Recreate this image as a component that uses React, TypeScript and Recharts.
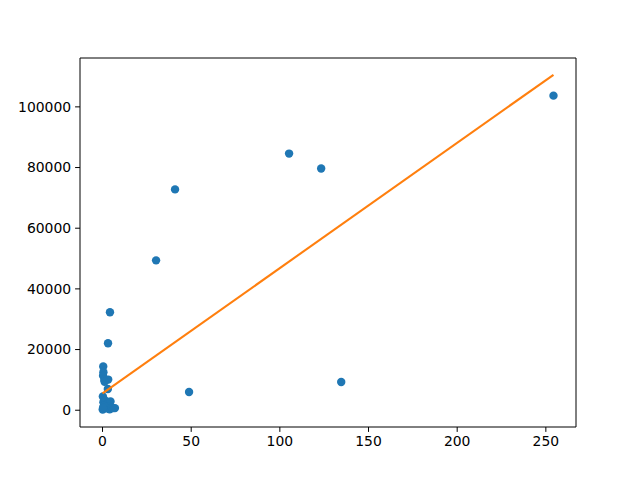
import React from 'react';
import {
  ScatterChart,
  Scatter,
  XAxis,
  YAxis,
  ReferenceLine,
} from 'recharts';

// scatter points (x, y)
const pointX = [
  254.3, 105.2, 123.3, 40.9, 30.2, 4.2, 3.1, 48.8, 134.6,
  0.4, 0.5, 0.3, 1.0, 3.2, 3.0, 1.2, 0.2, 0.5, 1.5, 2.5,
  4.5, 0.1, 2.0, 3.0, 4.0, 5.0, 6.0, 0.8, 0.3, 7.0,
];
const pointY = [
  103700, 84600, 79700, 72800, 49400, 32300, 22100, 6000, 9300,
  14400, 12500, 11400, 10000, 10100, 7000, 9400, 4500, 2600, 3200, 2000,
  2900, 200, 600, 1200, 300, 900, 700, 1500, 800, 700,
];

// fitted line end points (orange)
const fitX = [0, 254.3];
const fitY = [5560, 110580];

const xTicks = [0, 50, 100, 150, 200, 250];
const yTicks = [0, 20000, 40000, 60000, 80000, 100000];

const X_DOMAIN: [number, number] = [-12.7, 267.0];
const Y_DOMAIN: [number, number] = [-5530, 116110];

const points = pointX.map((x, i) => ({ x, y: pointY[i] }));
const fitLine = fitX.map((x, i) => ({ x, y: fitY[i] }));

const tickStyle = { fill: '#000', fontSize: 13.9, fontFamily: 'DejaVu Sans' };

const Dot = (props: any) => (
  <circle cx={props.cx} cy={props.cy} r={4.2} fill="#1f77b4" />
);

export default function App() {
  return (
    <div style={{ position: 'absolute', left: 0, top: 0, background: '#fff' }}>
      <ScatterChart
        width={640}
        height={480}
        margin={{ top: 58, right: 64, bottom: 0, left: 0 }}
      >
        <XAxis
          type="number"
          dataKey="x"
          domain={X_DOMAIN}
          ticks={xTicks}
          allowDataOverflow
          height={53}
          stroke="#000"
          tickSize={4.9}
          tickMargin={4}
          tick={tickStyle}
        />
        <YAxis
          type="number"
          dataKey="y"
          domain={Y_DOMAIN}
          ticks={yTicks}
          allowDataOverflow
          width={80}
          stroke="#000"
          tickSize={4.9}
          tickMargin={4}
          tick={tickStyle}
        />
        <ReferenceLine x={X_DOMAIN[1]} stroke="#000" strokeWidth={1} ifOverflow="extendDomain" />
        <ReferenceLine y={Y_DOMAIN[1]} stroke="#000" strokeWidth={1} ifOverflow="extendDomain" />
        <Scatter data={points} shape={Dot} isAnimationActive={false} />
        <Scatter
          data={fitLine}
          line={{ stroke: '#ff7f0e', strokeWidth: 2.1 }}
          shape={() => <g />}
          isAnimationActive={false}
        />
      </ScatterChart>
    </div>
  );
}
